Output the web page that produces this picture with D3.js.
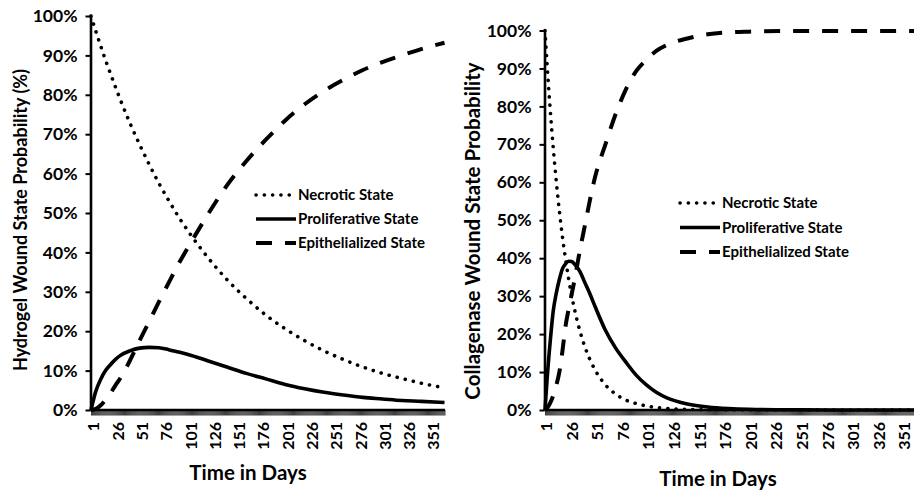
<!DOCTYPE html>
<html><head><meta charset="utf-8">
<script src="https://cdn.jsdelivr.net/npm/d3@7"></script>
<style>
body{margin:0;background:#fff;}
svg{display:block;font-family:Lato,"Open Sans",sans-serif;font-weight:700;}
</style></head><body>
<svg id="c" width="914" height="494"></svg>
<script>
// ---- data (percent values) ----
const daysL = [1,6,11,16,21,26,31,41,51,61,71,81,91,101,121,141,161,181,201,221,241,261,281,301,321,341,365];
const necroticL = [100,96.1,92.4,88.8,85.4,82.1,78.9,72.9,67.4,62.3,57.5,53.2,49.1,45.4,38.8,33.1,28.3,24.1,20.6,17.6,15.0,12.8,10.9,9.3,8.0,6.8,5.6];
const prolifL = [0,4.8,7.8,10.0,11.5,12.8,13.8,15.0,15.7,15.9,15.8,15.3,14.7,14.1,12.5,10.9,9.3,7.9,6.5,5.4,4.5,3.8,3.2,2.8,2.4,2.2,1.9];
const epithL = [0,0.3,1.2,2.6,4.2,6.2,8.0,12.5,17.6,22.5,27.5,32.3,37.0,41.3,49.5,57.0,63.2,68.6,73.5,77.6,81.0,83.8,86.3,88.3,90.0,91.6,93.2];

const daysR = [1,3,6,9,12,15,18,21,24,27,30,35,40,45,50,60,70,80,90,100,110,120,140,160,180,200,250,300,365];
const necroticR = [100,91.2,79.5,69.2,60.3,52.5,45.7,39.9,34.7,30.2,26.3,20.9,16.6,13.2,10.5,6.6,4.2,2.6,1.7,1.05,0.66,0.42,0.17,0.07,0.03,0,0,0,0];
const prolifR = [0,8,17.8,26,30.8,34.4,37.2,38.5,39.2,39.1,38.4,36.5,33.5,30.5,27.2,21,16.3,12.6,9.2,6.6,4.6,3.2,1.6,0.8,0.4,0.2,0.05,0,0];
const epithR = [0,0.5,1.8,3.8,6.5,10,15.5,22,26.5,30.5,34.5,42,48.7,55.5,61.5,70,78,84.5,89.3,92.3,94.7,96.2,97.9,99,99.5,99.7,99.9,99.9,99.9];

const seriesNames = ["Necrotic State","Proliferative State","Epithelialized State"];
const yTickValues = [0,10,20,30,40,50,60,70,80,90,100];
const xTickLabels = [1,26,51,76,101,126,151,176,201,226,251,276,301,326,351];
const nDays = 365;
const yTitleL = "Hydrogel Wound State Probability (%)";
const yTitleR = "Collagenase Wound State Probability";
const xTitle = "Time in Days";

const styles = [
  {w:3.6, dash:"0.1 8.2", cap:"round"},
  {w:3.6, dash:null, cap:"butt"},
  {w:4, dash:"16 13", cap:"butt"}
];

const svg = d3.select("#c");

function panel(p){
  const g = svg.append("g");
  const x = d3.scaleLinear().domain([0.5, nDays+0.5]).range([p.x0, p.x1]);
  const y = d3.scaleLinear().domain([0,100]).range([p.yb, p.yt]);

  // x axis ticks (one per day)
  const xa = g.append("g").attr("transform",`translate(0,${p.yb})`)
    .call(d3.axisBottom(x).tickValues(d3.range(1,nDays+1)).tickSize(5.5).tickSizeOuter(0).tickFormat(""));
  xa.select(".domain").remove();
  xa.selectAll(".tick line").attr("stroke","#000").attr("stroke-width",0.75);
  g.append("line").attr("x1",p.x0).attr("x2",p.x1).attr("y1",p.yb).attr("y2",p.yb)
    .attr("stroke","#000").attr("stroke-width",2.6);
  // x labels
  g.selectAll(".xl").data(xTickLabels).enter().append("text")
    .attr("transform",d=>`translate(${x(d)+p.lblDx},${p.yb+12}) rotate(-90)`)
    .attr("text-anchor","end").attr("font-size",16).attr("fill","#000").text(d=>d);

  // y axis
  const ya = g.append("g").attr("transform",`translate(${p.x0},0)`)
    .call(d3.axisLeft(y).tickValues(yTickValues).tickSize(5).tickSizeOuter(0).tickPadding(8).tickFormat(d=>d+"%"));
  ya.select(".domain").attr("stroke","#000").attr("stroke-width",2.6);
  ya.selectAll(".tick line").attr("stroke","#000").attr("stroke-width",2);
  ya.selectAll(".tick text").attr("font-size",17.5).attr("font-family","Lato,sans-serif").attr("font-weight",700).attr("fill","#000");

  // lines
  const line = d3.line().x(d=>x(d[0])).y(d=>y(d[1])).curve(d3.curveMonotoneX);
  p.series.forEach((vals,i)=>{
    const pts = p.days.map((d,j)=>[d, vals[j]]);
    const s = styles[i];
    g.append("path").attr("d", line(pts)).attr("fill","none").attr("stroke","#000")
      .attr("stroke-width", s.w).attr("stroke-dasharray", s.dash).attr("stroke-linecap", s.cap)
      .attr("stroke-linejoin","round");
  });

  // legend
  seriesNames.forEach((nm,i)=>{
    const s = styles[i];
    const ly = p.legY + i*p.legDy;
    g.append("line").attr("x1",p.legX).attr("x2",p.legX+40).attr("y1",ly).attr("y2",ly)
      .attr("stroke","#000").attr("stroke-width",s.w).attr("stroke-dasharray",s.dash).attr("stroke-linecap",s.cap);
    g.append("text").attr("x",p.legX+42).attr("y",ly).attr("dy","0.36em")
      .attr("font-size",15).attr("fill","#000").text(nm);
  });

  // titles
  g.append("text").attr("transform",`translate(${p.ytX},${p.ytY}) rotate(-90)`)
    .attr("text-anchor","middle").attr("font-size",p.ytSize).attr("fill","#000").text(p.yTitle);
  g.append("text").attr("x",p.xtX).attr("y",p.xtY).attr("text-anchor","middle")
    .attr("font-size",20.5).attr("fill","#000").text(xTitle);
}

panel({x0:90.5, x1:445, yt:16, yb:410, days:daysL, series:[necroticL,prolifL,epithL], lblDx:8.5,
  legX:256, legY:195, legDy:24, ytX:26.5, ytY:220, ytSize:18, yTitle:yTitleL, xtX:248, xtY:480});
panel({x0:544.5, x1:918.3, yt:30.5, yb:410, days:daysR, series:[necroticR,prolifR,epithR], lblDx:7,
  legX:680, legY:203, legDy:24.5, ytX:480, ytY:231, ytSize:20.5, yTitle:yTitleR, xtX:718, xtY:486});
</script>
</body></html>
